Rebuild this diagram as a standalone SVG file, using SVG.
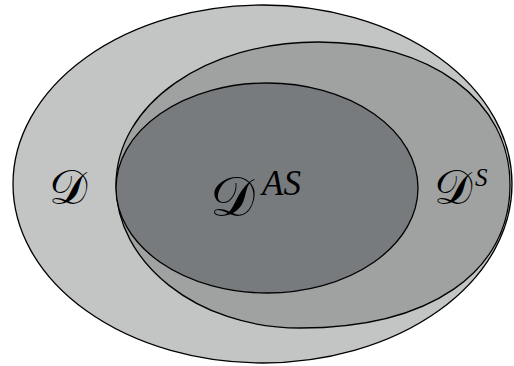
<svg xmlns="http://www.w3.org/2000/svg" width="514" height="366" viewBox="0 0 514 366">
<style>
.reg{stroke:#000;stroke-width:1.3}
.scr{font-family:"DejaVu Serif","Noto Sans","Liberation Serif",serif;fill:#000}
.sup{font-family:"Liberation Serif","Times New Roman",serif;font-style:italic;fill:#000}
</style>
<rect width="514" height="366" fill="#fff"/>
<g id="D">
<ellipse class="reg" cx="262.5" cy="184" rx="249.5" ry="179" fill="#c2c5c4"/>
<text class="scr" x="49" y="204" font-size="48">𝒟</text>
</g>
<g id="DS">
<path class="reg" fill="#9fa2a1" d="M116,185 C116,104 206,42 318,42 C430,42 510,100 510,185 C510,272 430,328 300,328 C196,328 116,262 116,185 Z"/>
<text class="scr" x="434" y="204" font-size="48">𝒟</text>
<text class="sup" x="475" y="186" font-size="25">S</text>
</g>
<g id="DAS">
<ellipse class="reg" cx="267" cy="188" rx="151" ry="105" fill="#777b7e"/>
<text class="scr" x="210" y="216" font-size="56">𝒟</text>
<text class="sup" x="262" y="195" font-size="35">AS</text>
</g>
<g id="connectors"></g>
</svg>
